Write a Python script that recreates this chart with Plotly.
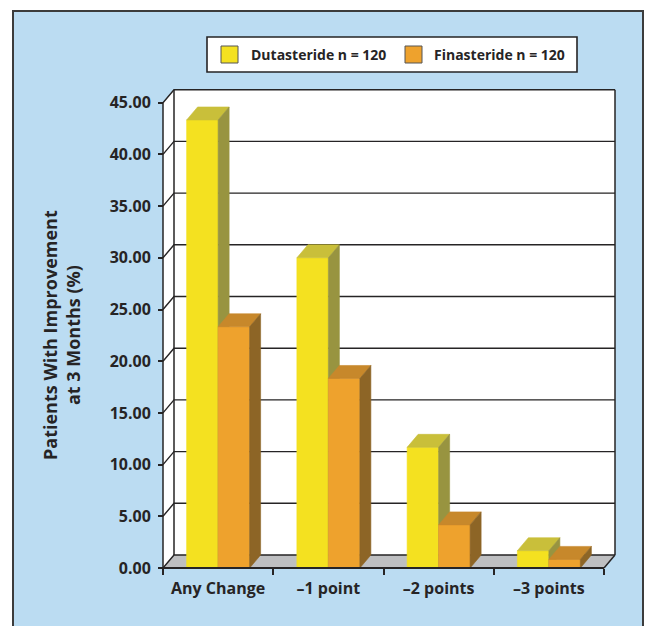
import plotly.graph_objects as go

# ---- data -------------------------------------------------------------
categories = ["Any Change", "–1 point", "–2 points", "–3 points"]
dutasteride = [43.33, 30.00, 11.67, 1.67]
finasteride = [23.33, 18.33, 4.17, 0.83]
series_names = ["Dutasteride n = 120", "Finasteride n = 120"]
y_ticks = [0, 5, 10, 15, 20, 25, 30, 35, 40, 45]
y_title = "Patients With Improvement<br>at 3 Months (%)"

# ---- geometry / style -------------------------------------------------
FIG_W, FIG_H = 648, 626
M_L, M_R, M_T, M_B = 158, 28, 85, 54
PX_PER_CAT = 110.25          # horizontal scale of the front plane
PX_PER_PCT = 10.34           # vertical scale of the front plane
FRONT_X0, FRONT_Y0 = 163, 568  # pixel position of the front corner
DX = 11 / PX_PER_CAT         # depth offset (to the right)
DY = 13 / PX_PER_PCT         # depth offset (upwards)
BAR_W = 0.2857

INK = "#262425"
BG = "#BBDCF2"
FLOOR = "#BEBFC1"
FONT = "Open Sans"
COLORS = {
    "Dutasteride": ("#F4E120", "#C9BF3A", "#989440"),
    "Finasteride": ("#EEA22D", "#C7882B", "#8D6526"),
}

x_lo = -0.5 + (M_L - FRONT_X0) / PX_PER_CAT
x_hi = -0.5 + (FIG_W - M_R - FRONT_X0) / PX_PER_CAT
y_lo = (FRONT_Y0 - (FIG_H - M_B)) / PX_PER_PCT
y_hi = (FRONT_Y0 - M_T) / PX_PER_PCT
PLOT_W = FIG_W - M_L - M_R
PLOT_H = FIG_H - M_T - M_B

n_cat = len(categories)
X_L, X_R = -0.5, n_cat - 0.5
Y_TOP = max(y_ticks)


def px_x(px):
    return (px - M_L) / PLOT_W


def px_y(py):
    return (FIG_H - M_B - py) / PLOT_H


def faces(values, side):
    """Front, top and side polygons of one series (None-separated)."""
    front, top, right = ([], []), ([], []), ([], [])
    for i, v in enumerate(values):
        xl = i - BAR_W if side == 0 else i
        xr = xl + BAR_W
        for (xs, ys), px, py in (
            (front, [xl, xr, xr, xl, xl], [0, 0, v, v, 0]),
            (top, [xl, xr, xr + DX, xl + DX, xl], [v, v, v + DY, v + DY, v]),
            (right, [xr, xr + DX, xr + DX, xr, xr], [0, DY, v + DY, v, 0]),
        ):
            xs.extend(px + [None])
            ys.extend(py + [None])
    return front, top, right


fig = go.Figure()
for k, (name, vals) in enumerate(zip(["Dutasteride", "Finasteride"],
                                     [dutasteride, finasteride])):
    for (xs, ys), col in zip(faces(vals, k), COLORS[name]):
        fig.add_trace(go.Scatter(
            x=xs, y=ys, mode="lines", fill="toself", fillcolor=col,
            line=dict(color=col, width=0.6), hoverinfo="skip",
            showlegend=False))

shapes = []
# outer panel
shapes.append(dict(type="rect", xref="paper", yref="paper",
                   x0=px_x(13), x1=px_x(643), y0=px_y(11), y1=px_y(660),
                   fillcolor=BG, line=dict(color="#3c3c3c", width=2),
                   layer="below"))
# back wall, left wall and floor
shapes.append(dict(type="rect", x0=X_L + DX, x1=X_R + DX, y0=DY,
                   y1=Y_TOP + DY, fillcolor="white", line_width=0,
                   layer="below"))
shapes.append(dict(type="path",
                   path=f"M{X_L},0 L{X_L + DX},{DY} L{X_L + DX},{Y_TOP + DY} "
                        f"L{X_L},{Y_TOP} Z",
                   fillcolor="white", line_width=0, layer="below"))
shapes.append(dict(type="path",
                   path=f"M{X_L},0 L{X_R},0 L{X_R + DX},{DY} L{X_L + DX},{DY} Z",
                   fillcolor=FLOOR, line_width=0, layer="below"))
# grid lines running round the left wall and along the back wall
for v in y_ticks:
    shapes.append(dict(type="path",
                       path=f"M{X_L},{v} L{X_L + DX},{v + DY} L{X_R + DX},{v + DY}",
                       line=dict(color=INK, width=1.4), layer="below"))
# wall edges
edge = dict(color=INK, width=1.5)
shapes.append(dict(type="line", x0=X_L + DX, x1=X_L + DX, y0=DY,
                   y1=Y_TOP + DY, line=edge, layer="below"))
shapes.append(dict(type="line", x0=X_R + DX, x1=X_R + DX, y0=DY,
                   y1=Y_TOP + DY, line=edge, layer="below"))
shapes.append(dict(type="line", x0=X_R, x1=X_R + DX, y0=0, y1=DY,
                   line=edge, layer="below"))
shapes.append(dict(type="line", x0=X_L, x1=X_L, y0=0, y1=Y_TOP,
                   line=edge, layer="above"))
shapes.append(dict(type="line", x0=X_L, x1=X_R, y0=0, y1=0,
                   line=dict(color=INK, width=2), layer="above"))

# legend box
shapes.append(dict(type="rect", xref="paper", yref="paper",
                   x0=px_x(207), x1=px_x(577), y0=px_y(37), y1=px_y(72),
                   fillcolor="white", line=dict(color=INK, width=1.6)))
annotations = []
for (sx, tx), name, key in zip([(221, 249), (405, 432)], series_names,
                               ["Dutasteride", "Finasteride"]):
    shapes.append(dict(type="rect", xref="paper", yref="paper",
                       x0=px_x(sx), x1=px_x(sx + 17), y0=px_y(46),
                       y1=px_y(63), fillcolor=COLORS[key][0],
                       line=dict(color="#555555", width=1)))
    annotations.append(dict(xref="paper", yref="paper", x=px_x(tx),
                            y=px_y(54.5), xanchor="left", yanchor="middle",
                            text=name, showarrow=False,
                            font=dict(family=FONT, size=14, color=INK,
                                      weight=700)))

# y-axis title
annotations.append(dict(xref="paper", yref="paper", x=px_x(61),
                        y=px_y(335), xanchor="center", yanchor="middle",
                        text=y_title, textangle=-90, showarrow=False,
                        font=dict(family=FONT, size=18, color=INK,
                                  weight=700)))

fig.update_layout(
    width=FIG_W, height=FIG_H,
    margin=dict(l=M_L, r=M_R, t=M_T, b=M_B, autoexpand=False),
    paper_bgcolor="white", plot_bgcolor="rgba(0,0,0,0)",
    showlegend=False, shapes=shapes, annotations=annotations,
    font=dict(family=FONT, color=INK),
)
fig.update_xaxes(
    range=[x_lo, x_hi], anchor="free",
    position=((FIG_H - M_B) - FRONT_Y0) / PLOT_H,
    tickvals=list(range(n_cat)), ticktext=categories, ticks="",
    showgrid=False, zeroline=False, showline=False,
    tickfont=dict(family=FONT, size=16, color=INK, weight=700),
    ticklabelstandoff=9,
    minor=dict(tickvals=[i - 0.5 for i in range(n_cat + 1)],
               ticks="outside", ticklen=6, tickwidth=1.5, tickcolor=INK,
               showgrid=False),
    fixedrange=True,
)
fig.update_yaxes(
    range=[y_lo, y_hi], anchor="free",
    position=(FRONT_X0 - M_L) / PLOT_W,
    tickvals=y_ticks, tickformat=".2f", ticks="outside", ticklen=5,
    tickwidth=1.5, tickcolor=INK,
    showgrid=False, zeroline=False, showline=False,
    tickfont=dict(family=FONT, size=16, color=INK, weight=700),
    ticklabelstandoff=4, fixedrange=True,
)

fig.write_html("out.html")
